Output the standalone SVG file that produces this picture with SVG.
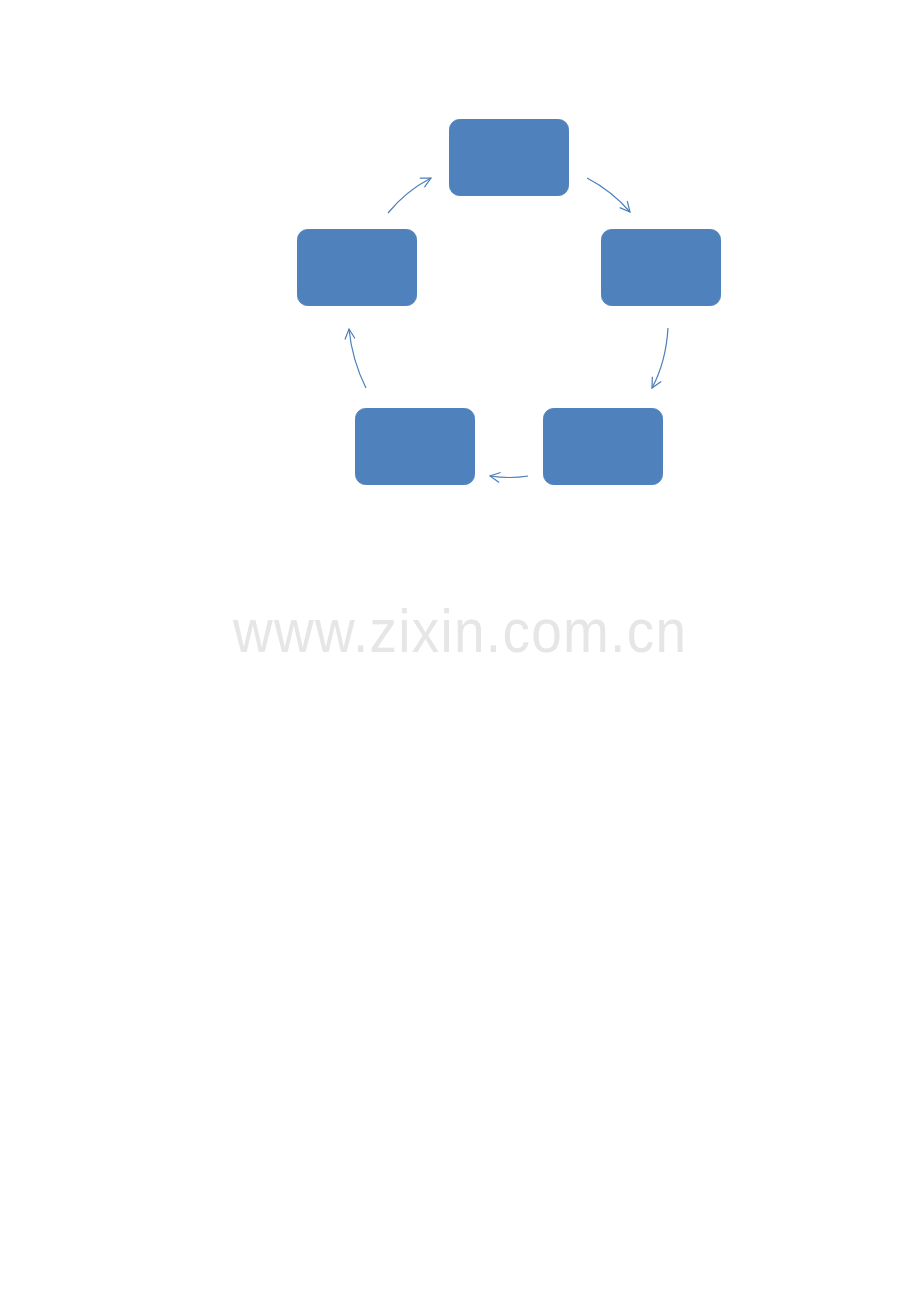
<svg xmlns="http://www.w3.org/2000/svg" width="920" height="1302" viewBox="0 0 920 1302">
<style>
.box{fill:#4f81bd;stroke:#4f81bd;stroke-width:1}
.conn{fill:none;stroke:#4a7ebb;stroke-width:1.2}
.wm{font-family:"Liberation Sans",Arial,sans-serif;font-size:55px;fill:#e6e6e6}
</style>
<defs>
<marker id="arr" viewBox="0 0 12 12" refX="11" refY="6" markerWidth="12" markerHeight="12" markerUnits="userSpaceOnUse" orient="auto">
<path d="M1,1 L11,6 L1,11" fill="none" stroke="#4a7ebb" stroke-width="1.2"/>
</marker>
</defs>
<rect width="920" height="1302" fill="#ffffff"/>
<g id="node-top"><rect class="box" x="449.5" y="119.5" width="119" height="76" rx="10"/></g>
<g id="node-right"><rect class="box" x="601.5" y="229.5" width="119" height="76" rx="10"/></g>
<g id="node-bottom-right"><rect class="box" x="543.5" y="408.5" width="119" height="76" rx="10"/></g>
<g id="node-bottom-left"><rect class="box" x="355.5" y="408.5" width="119" height="76" rx="10"/></g>
<g id="node-left"><rect class="box" x="297.5" y="229.5" width="119" height="76" rx="10"/></g>
<g id="connectors">
<path class="conn" d="M388,213 Q406,191 431,178" marker-end="url(#arr)"/>
<path class="conn" d="M587,178 Q612,191 630,212" marker-end="url(#arr)"/>
<path class="conn" d="M668,328 Q666,362 652,388" marker-end="url(#arr)"/>
<path class="conn" d="M528,476 Q510,479 490,476" marker-end="url(#arr)"/>
<path class="conn" d="M366,388 Q352,360 349,329" marker-end="url(#arr)"/>
</g>
<text class="wm" transform="translate(0,652) scale(1,1.12)" x="233" y="0" textLength="453" lengthAdjust="spacing">www.zixin.com.cn</text>
</svg>
